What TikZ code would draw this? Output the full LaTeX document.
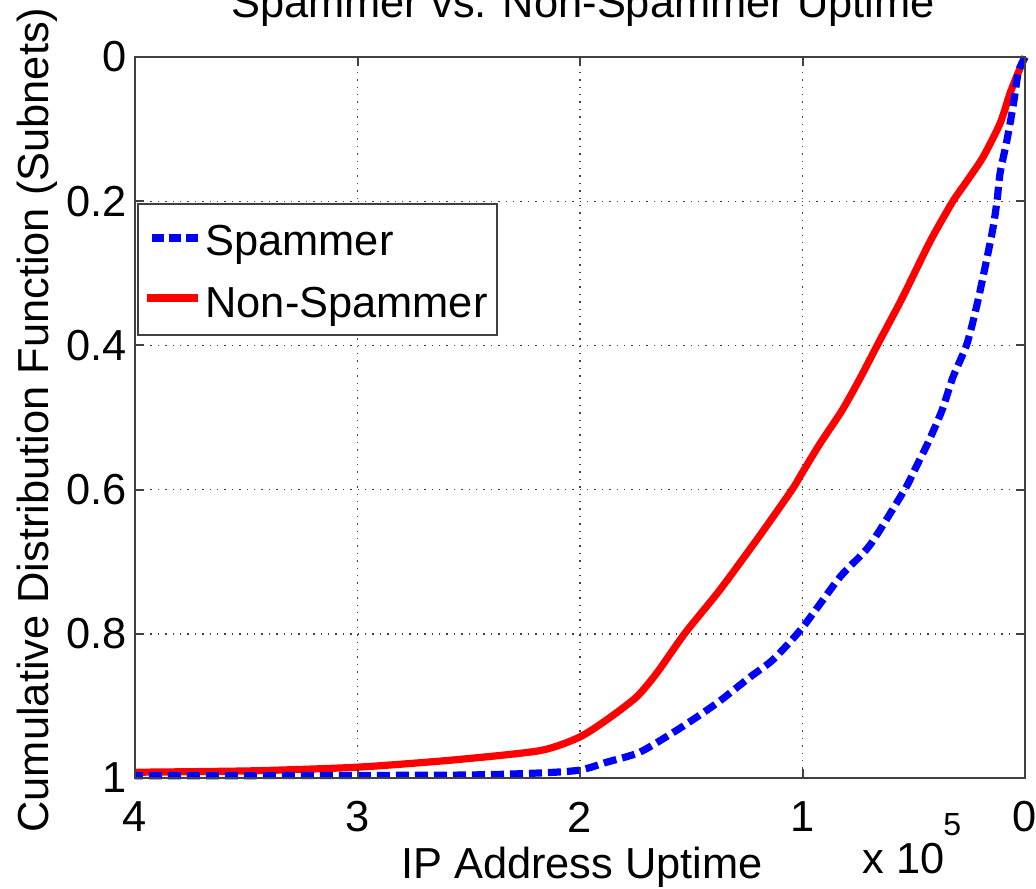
\documentclass[tikz,border=0pt]{standalone}
\usepackage{fontspec}
\setmainfont{Liberation Sans}
\usetikzlibrary{positioning}

\begin{document}
\begin{tikzpicture}[x=0.5pt, y=-0.5pt, font=\fontsize{21.7}{26}\selectfont,
  frame/.style={draw=black!75, line width=1pt},
  gridline/.style={black!75, line width=0.7pt, dash pattern=on 0.7pt off 3pt},
  spam/.style={blue, line width=3.6pt, dash pattern=on 6.5pt off 3pt},
  nonspam/.style={red, line width=3.6pt, line join=round}]
  \clip (0,0) rectangle (1036,888);
  \fill[white] (0,0) rectangle (1036,888);

  % data axes: x in units of 10^5 (reversed), y = CDF (reversed)
  \begin{scope}[shift={(1025,57)}, x={(-111.25pt,0)}, y={(0,-360.5pt)}]
    \coordinate (ne) at (0,0);
    \coordinate (sw) at (4,1);

    \foreach \gx in {1,2,3}
      \draw[gridline] (\gx,0) -- (\gx,1);
    \foreach \gy in {0.2,0.4,0.6,0.8}
      \draw[gridline] (0,\gy) -- (4,\gy);

    \draw[nonspam] plot[smooth, tension=0.4] coordinates {
      (0,0) (0.031,0.022) (0.067,0.050) (0.112,0.092) (0.189,0.139)
      (0.261,0.172) (0.328,0.202) (0.427,0.256) (0.553,0.335) (0.661,0.398)
      (0.742,0.446) (0.822,0.490) (0.921,0.536) (1.002,0.577) (1.047,0.600)
      (1.195,0.665) (1.371,0.739) (1.528,0.799) (1.654,0.854) (1.744,0.887)
      (1.865,0.916) (2.000,0.943) (2.180,0.962) (2.571,0.975) (3.002,0.985)
      (3.470,0.990) (4,0.992)};
    \draw[spam] plot[smooth, tension=0.4] coordinates {
      (0,0) (0.013,0.008) (0.031,0.022) (0.054,0.069) (0.081,0.115)
      (0.112,0.161) (0.126,0.200) (0.148,0.244) (0.211,0.337) (0.261,0.398)
      (0.324,0.444) (0.373,0.490) (0.436,0.535) (0.503,0.577) (0.539,0.599)
      (0.697,0.677) (0.831,0.721) (1.002,0.792) (1.133,0.836) (1.236,0.860)
      (1.384,0.896) (1.551,0.931) (1.730,0.964) (1.879,0.978) (2.000,0.989)
      (2.180,0.993) (2.571,0.996) (4,0.997)};

    \draw[frame] (sw) rectangle (ne);
    \foreach \gx in {0,...,4} {
      \draw[frame] (\gx,1) -- ++(0,-0.0125);
      \draw[frame] (\gx,0) -- ++(0,0.0125);
      \node (xt\gx) at (\gx,1.054) {\gx};
    }
    \foreach \gy [count=\i] in {0,0.2,0.4,0.6,0.8,1} {
      \draw[frame] (4,\gy) -- ++(-0.04,0);
      \draw[frame] (0,\gy) -- ++(0.04,0);
      \node[anchor=east, inner sep=0] (yt\i) at (4.036,\gy) {\gy};
    }
  \end{scope}

  % titles
  \node[anchor=base] (title) at (583,18) {Spammer vs. Non-Spammer Uptime};
  \node[anchor=base] (xlabel) at (582,878) {IP Address Uptime};
  \node[anchor=base west, inner sep=0] (xscale) at (862,873) {x 10};
  \node[anchor=base west, inner sep=0, font=\fontsize{16}{19}\selectfont]
    (xexp) at (943,835) {5};
  \node[anchor=base, rotate=90] (ylabel) at (48,420)
    {Cumulative Distribution Function (Subnets)};

  % legend
  \node[frame, fill=white, anchor=north west, minimum width=179.5pt,
    minimum height=65.5pt, inner sep=0] (legend) at (137,203) {};
  \node[anchor=base west, inner sep=0] (spamtxt) at (205,255) {Spammer};
  \node[anchor=base west, inner sep=0] (nontxt) at (205,317) {Non-Spammer};
  \draw[spam, dash pattern=on 6pt off 2.5pt] (152,238) -- (198,238);
  \draw[nonspam] (147,298) -- (198,298);
\end{tikzpicture}
\end{document}
